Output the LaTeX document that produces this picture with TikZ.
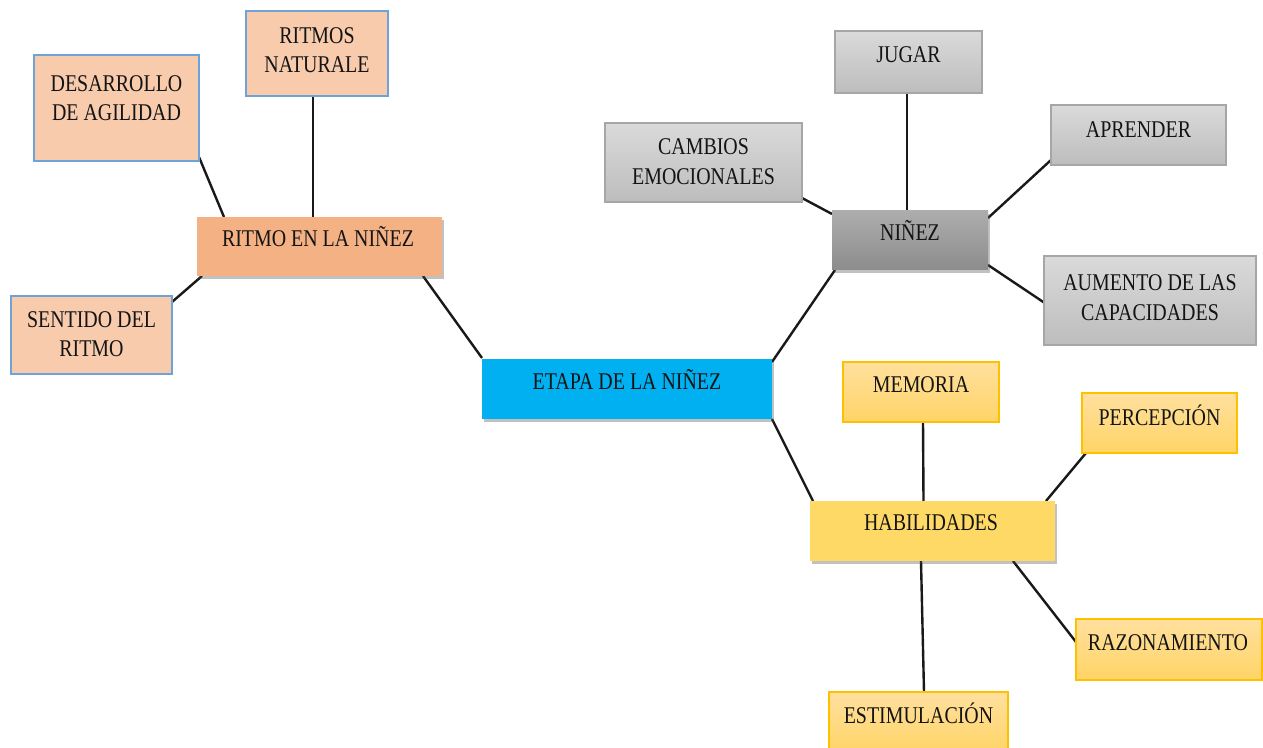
\documentclass[tikz,border=0pt]{standalone}
\usepackage{fontspec}
\setmainfont[FakeStretch=0.83]{Liberation Serif}
\usetikzlibrary{calc,fit,shadows,backgrounds}
\definecolor{peachc}{HTML}{F8CBAD}
\definecolor{peachb}{HTML}{6FA3D8}
\definecolor{orangec}{HTML}{F4B183}
\definecolor{bluec}{HTML}{00B0F0}
\definecolor{greyT}{HTML}{DADADA}
\definecolor{greyB}{HTML}{BDBDBD}
\definecolor{greyD}{HTML}{A6A6A6}
\definecolor{ninT}{HTML}{ADADAD}
\definecolor{ninB}{HTML}{8C8C8C}
\definecolor{yelT}{HTML}{FFE09E}
\definecolor{yelB}{HTML}{FFD466}
\definecolor{yelD}{HTML}{FFC000}
\definecolor{yelM}{HTML}{FFD966}
\tikzset{
  box/.style={inner sep=0pt, outer sep=0pt, rectangle},
  shad/.style={drop shadow={shadow xshift=1.2pt, shadow yshift=-2.2pt, opacity=0.35, fill=black!70}},
  peach/.style={box, fill=peachc, draw=peachb, line width=0.9pt},
  orangemain/.style={box, fill=orangec, shad},
  greybox/.style={box, top color=greyT, bottom color=greyB, draw=greyD, line width=0.9pt},
  greymain/.style={box, top color=ninT, bottom color=ninB, shad},
  yelbox/.style={box, top color=yelT, bottom color=yelB, draw=yelD, line width=0.9pt},
  yelmain/.style={box, fill=yelM, shad},
  bluemain/.style={box, fill=bluec, shad},
  txt/.style={inner sep=0pt, align=center, font=\fontsize{18pt}{22.1pt}\selectfont, text=black!92, text depth=0pt},
  one/.style={txt, text height=0.655em, yshift=-2.6pt},
  link/.style={line width=1.8pt, black!90}
}
\begin{document}
\begin{tikzpicture}[x=0.75pt, y=-0.75pt]
\useasboundingbox (0,0) rectangle (1263,748);
% left branch
\node[peach, fit={(34,55) (199,161)}] (desa) {};
\node[txt] (desat) at (116.5,98) {DESARROLLO\\DE AGILIDAD};
\node[peach, fit={(246,11) (388,96)}] (rnat) {};
\node[txt] (rnatt) at (317,50) {RITMOS\\NATURALE};
\node[orangemain, fit={(197,217) (442,276)}] (ritmo) {};
\node[one] (ritmot) at (318,239) {RITMO EN LA NIÑEZ};
\node[peach, fit={(11,296) (172,374)}] (sent) {};
\node[txt] (sentt) at (91.5,334) {SENTIDO DEL\\RITMO};
% center
\node[bluemain, fit={(482,359) (772,419)}] (etapa) {};
\node[one] (etapat) at (627,382) {ETAPA DE LA NIÑEZ};
% top right branch
\node[greybox, fit={(835,31) (982,93)}] (jugar) {};
\node[one] (jugart) at (908.5,55) {JUGAR};
\node[greybox, fit={(605,123) (802,202)}] (camb) {};
\node[txt] (cambt) at (703.5,161.5) {CAMBIOS\\EMOCIONALES};
\node[greybox, fit={(1051,105) (1226,165)}] (apr) {};
\node[one] (aprt) at (1138.5,130) {APRENDER};
\node[greymain, fit={(832,211) (988,270)}] (ninez) {};
\node[one] (ninezt) at (910,233) {NIÑEZ};
\node[greybox, fit={(1044,256) (1256,345)}] (aum) {};
\node[txt] (aumt) at (1150,297.5) {AUMENTO DE LAS\\CAPACIDADES};
% bottom right branch
\node[yelbox, fit={(843,362) (999,422)}] (mem) {};
\node[one] (memt) at (921,385) {MEMORIA};
\node[yelbox, fit={(1082,393) (1237,453)}] (perc) {};
\node[one] (perct) at (1159.5,418) {PERCEPCIÓN};
\node[yelmain, fit={(810,501) (1055,561)}] (hab) {};
\node[one] (habt) at (931,523) {HABILIDADES};
\node[yelbox, fit={(1076,619) (1262,680)}] (raz) {};
\node[one] (razt) at (1168,643) {RAZONAMIENTO};
\node[yelbox, fit={(829,692) (1008,754)}] (est) {};
\node[one] (estt) at (918.5,716) {ESTIMULACIÓN};
% connectors
\begin{scope}[on background layer]
\draw[link] ($(desa.south east)+(0,-4)$) -- ($(ritmo.north west)+(27,0)$);
\draw[link] ($(rnat.south)+(-4,0)$) -- ($(ritmo.north)+(-6.5,0)$);
\draw[link] ($(sent.north east)+(0,6)$) -- ($(ritmo.south west)+(5,0)$);
\draw[link] ($(ritmo.south east)+(-19,0)$) -- ($(etapa.north west)+(0,-1)$);
\draw[link] ($(etapa.north east)+(0,3)$) -- ($(ninez.south west)+(3,0)$);
\draw[link] (etapa.south east) -- ($(hab.north west)+(3,0)$);
\draw[link] ($(jugar.south)+(-1.5,0)$) -- ($(ninez.north)+(-3,0)$);
\draw[link] ($(camb.south east)+(0,-4)$) -- ($(ninez.north west)+(0,3)$);
\draw[link] ($(apr.south west)+(0,-5)$) -- ($(ninez.north east)+(0,7)$);
\draw[link] ($(aum.west)+(0,2)$) -- ($(ninez.south east)+(0,-5)$);
\draw[link] ($(mem.south)+(2,0)$) -- ($(hab.north)+(-9,0)$);
\draw[link] ($(perc.south west)+(4,0)$) -- ($(hab.north east)+(-9,0)$);
\draw[link] ($(hab.south east)+(-42,0)$) -- ($(raz.west)+(0,-7.5)$);
\draw[link] ($(hab.south)+(-11.5,0)$) -- ($(est.north)+(5.5,0)$);
\end{scope}
\end{tikzpicture}
\end{document}
